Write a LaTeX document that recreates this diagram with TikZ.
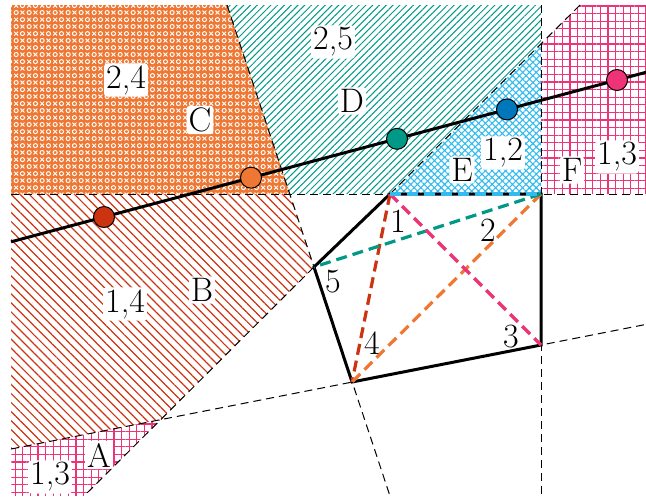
\documentclass[tikz,border=0pt]{standalone}
\usetikzlibrary{patterns.meta,calc}
\definecolor{corange}{HTML}{EE7733}
\definecolor{cblue}{HTML}{0077BB}
\definecolor{ccyan}{HTML}{33BBEE}
\definecolor{cmagenta}{HTML}{EE3377}
\definecolor{cred}{HTML}{CC3311}
\definecolor{cteal}{HTML}{009988}
\tikzdeclarepattern{
  name=circcross,
  type=uncolored,
  bounding box={(0pt,0pt) and (6.4pt,7.2pt)},
  tile size={(6.4pt,7.2pt)},
  code={
    \pgfsetlinewidth{0.5pt}
    \pgfpathcircle{\pgfqpoint{1.6pt}{1.8pt}}{1.05pt}
    \pgfpathcircle{\pgfqpoint{4.8pt}{5.4pt}}{1.05pt}
    \pgfpathmoveto{\pgfqpoint{3.8pt}{0.8pt}}\pgfpathlineto{\pgfqpoint{5.8pt}{2.8pt}}
    \pgfpathmoveto{\pgfqpoint{3.8pt}{2.8pt}}\pgfpathlineto{\pgfqpoint{5.8pt}{0.8pt}}
    \pgfpathmoveto{\pgfqpoint{0.6pt}{4.4pt}}\pgfpathlineto{\pgfqpoint{2.6pt}{6.4pt}}
    \pgfpathmoveto{\pgfqpoint{0.6pt}{6.4pt}}\pgfpathlineto{\pgfqpoint{2.6pt}{4.4pt}}
    \pgfusepath{stroke}
  }
}
\tikzset{
  thindash/.style={line width=0.5pt, dash pattern=on 4pt off 2.5pt},
  diag/.style={line width=1.6pt, dash pattern=on 5.5pt off 3pt},
  poly/.style={line width=1.5pt},
  dot/.style={circle, draw=black, line width=0.5pt, minimum size=10.5pt, inner sep=0pt},
  lbl/.style={fill=white, rounded corners=1.5pt, inner sep=1pt, font=\fontsize{17}{20}\selectfont},
  vlbl/.style={inner sep=0pt, font=\fontsize{17}{20}\selectfont},
  gridfill/.style={pattern={Hatch[angle=0,distance=3.8pt,line width=0.65pt]}, pattern color=cmagenta},
}
\begin{document}
\begin{tikzpicture}[x=0.5pt,y=-0.5pt]
\useasboundingbox (0,0) rectangle (646,500);
% polygon vertices
\coordinate (P1) at (390,194);
\coordinate (P2) at (541,194);
\coordinate (P3) at (541,345);
\coordinate (P4) at (352,382);
\coordinate (P5) at (314,267);
% helper points
\coordinate (Ctop) at (227,5);
\coordinate (Cbot) at (290,194);
\coordinate (Eup) at (541,44);
\coordinate (Ftop) at (580,5);
\coordinate (X) at (160.7,419.5);
\coordinate (Abot) at (84,496);
\coordinate (L34l) at (11,449);
\coordinate (L34r) at (646,324.4);
\coordinate (L45b) at (390,496);
% regions
\path[fill=corange, postaction={pattern=circcross, pattern color=white}]
  (11,5) -- (Ctop) -- (Cbot) -- (11,194) -- cycle;
\path[pattern={Lines[angle=45,distance=2.4pt,line width=0.5pt]}, pattern color=cteal]
  (Ctop) -- (541,5) -- (Eup) -- (P1) -- (Cbot) -- cycle;
\path[pattern={Hatch[angle=45,distance=2.4pt,line width=0.55pt]}, pattern color=ccyan]
  (P1) -- (Eup) -- (P2) -- cycle;
\path[gridfill]
  (Eup) -- (Ftop) -- (646,5) -- (646,194) -- (P2) -- cycle;
\path[pattern={Lines[angle=-45,distance=3.2pt,line width=0.6pt]}, pattern color=cred]
  (11,194) -- (Cbot) -- (P5) -- (X) -- (L34l) -- cycle;
\path[gridfill]
  (L34l) -- (X) -- (Abot) -- (11,496) -- cycle;
% boundary lines
\draw[thindash] (11,194) -- (646,194);
\draw[thindash] (541,5) -- (541,496);
\draw[thindash] (L34l) -- (L34r);
\draw[thindash] (Ctop) -- (L45b);
\draw[thindash] (P1) -- (Ftop);
\draw[thindash] (P5) -- (Abot);
% pentagon
\draw[poly] (P1) -- (P2) -- (P3) -- (P4) -- (P5) -- cycle;
% diagonals
\draw[diag, cred] (P1) -- (P4);
\draw[diag, corange] (P2) -- (P4);
\draw[diag, cteal] (P2) -- (P5);
\draw[diag, cmagenta] (P1) -- (P3);
\draw[diag, ccyan] (P1) -- (P2);
% query line
\coordinate (Ls) at (11,241.8);
\coordinate (Le) at (646,72.3);
\draw[line width=1.5pt] (Ls) -- (Le);
\node[dot, fill=cred] (d1) at (104,217) {};
\node[dot, fill=corange] (d2) at (251,177.7) {};
\node[dot, fill=cteal] (d3) at (397,138.8) {};
\node[dot, fill=cblue] (d4) at (507,109.4) {};
\node[dot, fill=cmagenta] (d5) at (617,80) {};
% region labels
\node[lbl] (t24) at (126,80) {2,4};
\node[lbl] (tC) at (200,120) {C};
\node[lbl] (t25) at (333,42) {2,5};
\node[lbl] (tD) at (352,101) {D};
\node[lbl] (t12) at (503,153) {1,2};
\node[lbl] (tE) at (462,170) {E};
\node[lbl] (tF) at (572,170) {F};
\node[lbl] (t13a) at (617,157) {1,3};
\node[lbl] (t14) at (125,304) {1,4};
\node[lbl] (tB) at (202,290) {B};
\node[lbl] (tA) at (99,455) {A};
\node[lbl] (t13b) at (50,477) {1,3};
% vertex labels
\node[vlbl] (v1) at (398,221) {1};
\node[vlbl] (v2) at (488,230) {2};
\node[vlbl] (v3) at (511,337) {3};
\node[vlbl] (v4) at (372,343) {4};
\node[vlbl] (v5) at (333,282) {5};
\end{tikzpicture}
\end{document}
